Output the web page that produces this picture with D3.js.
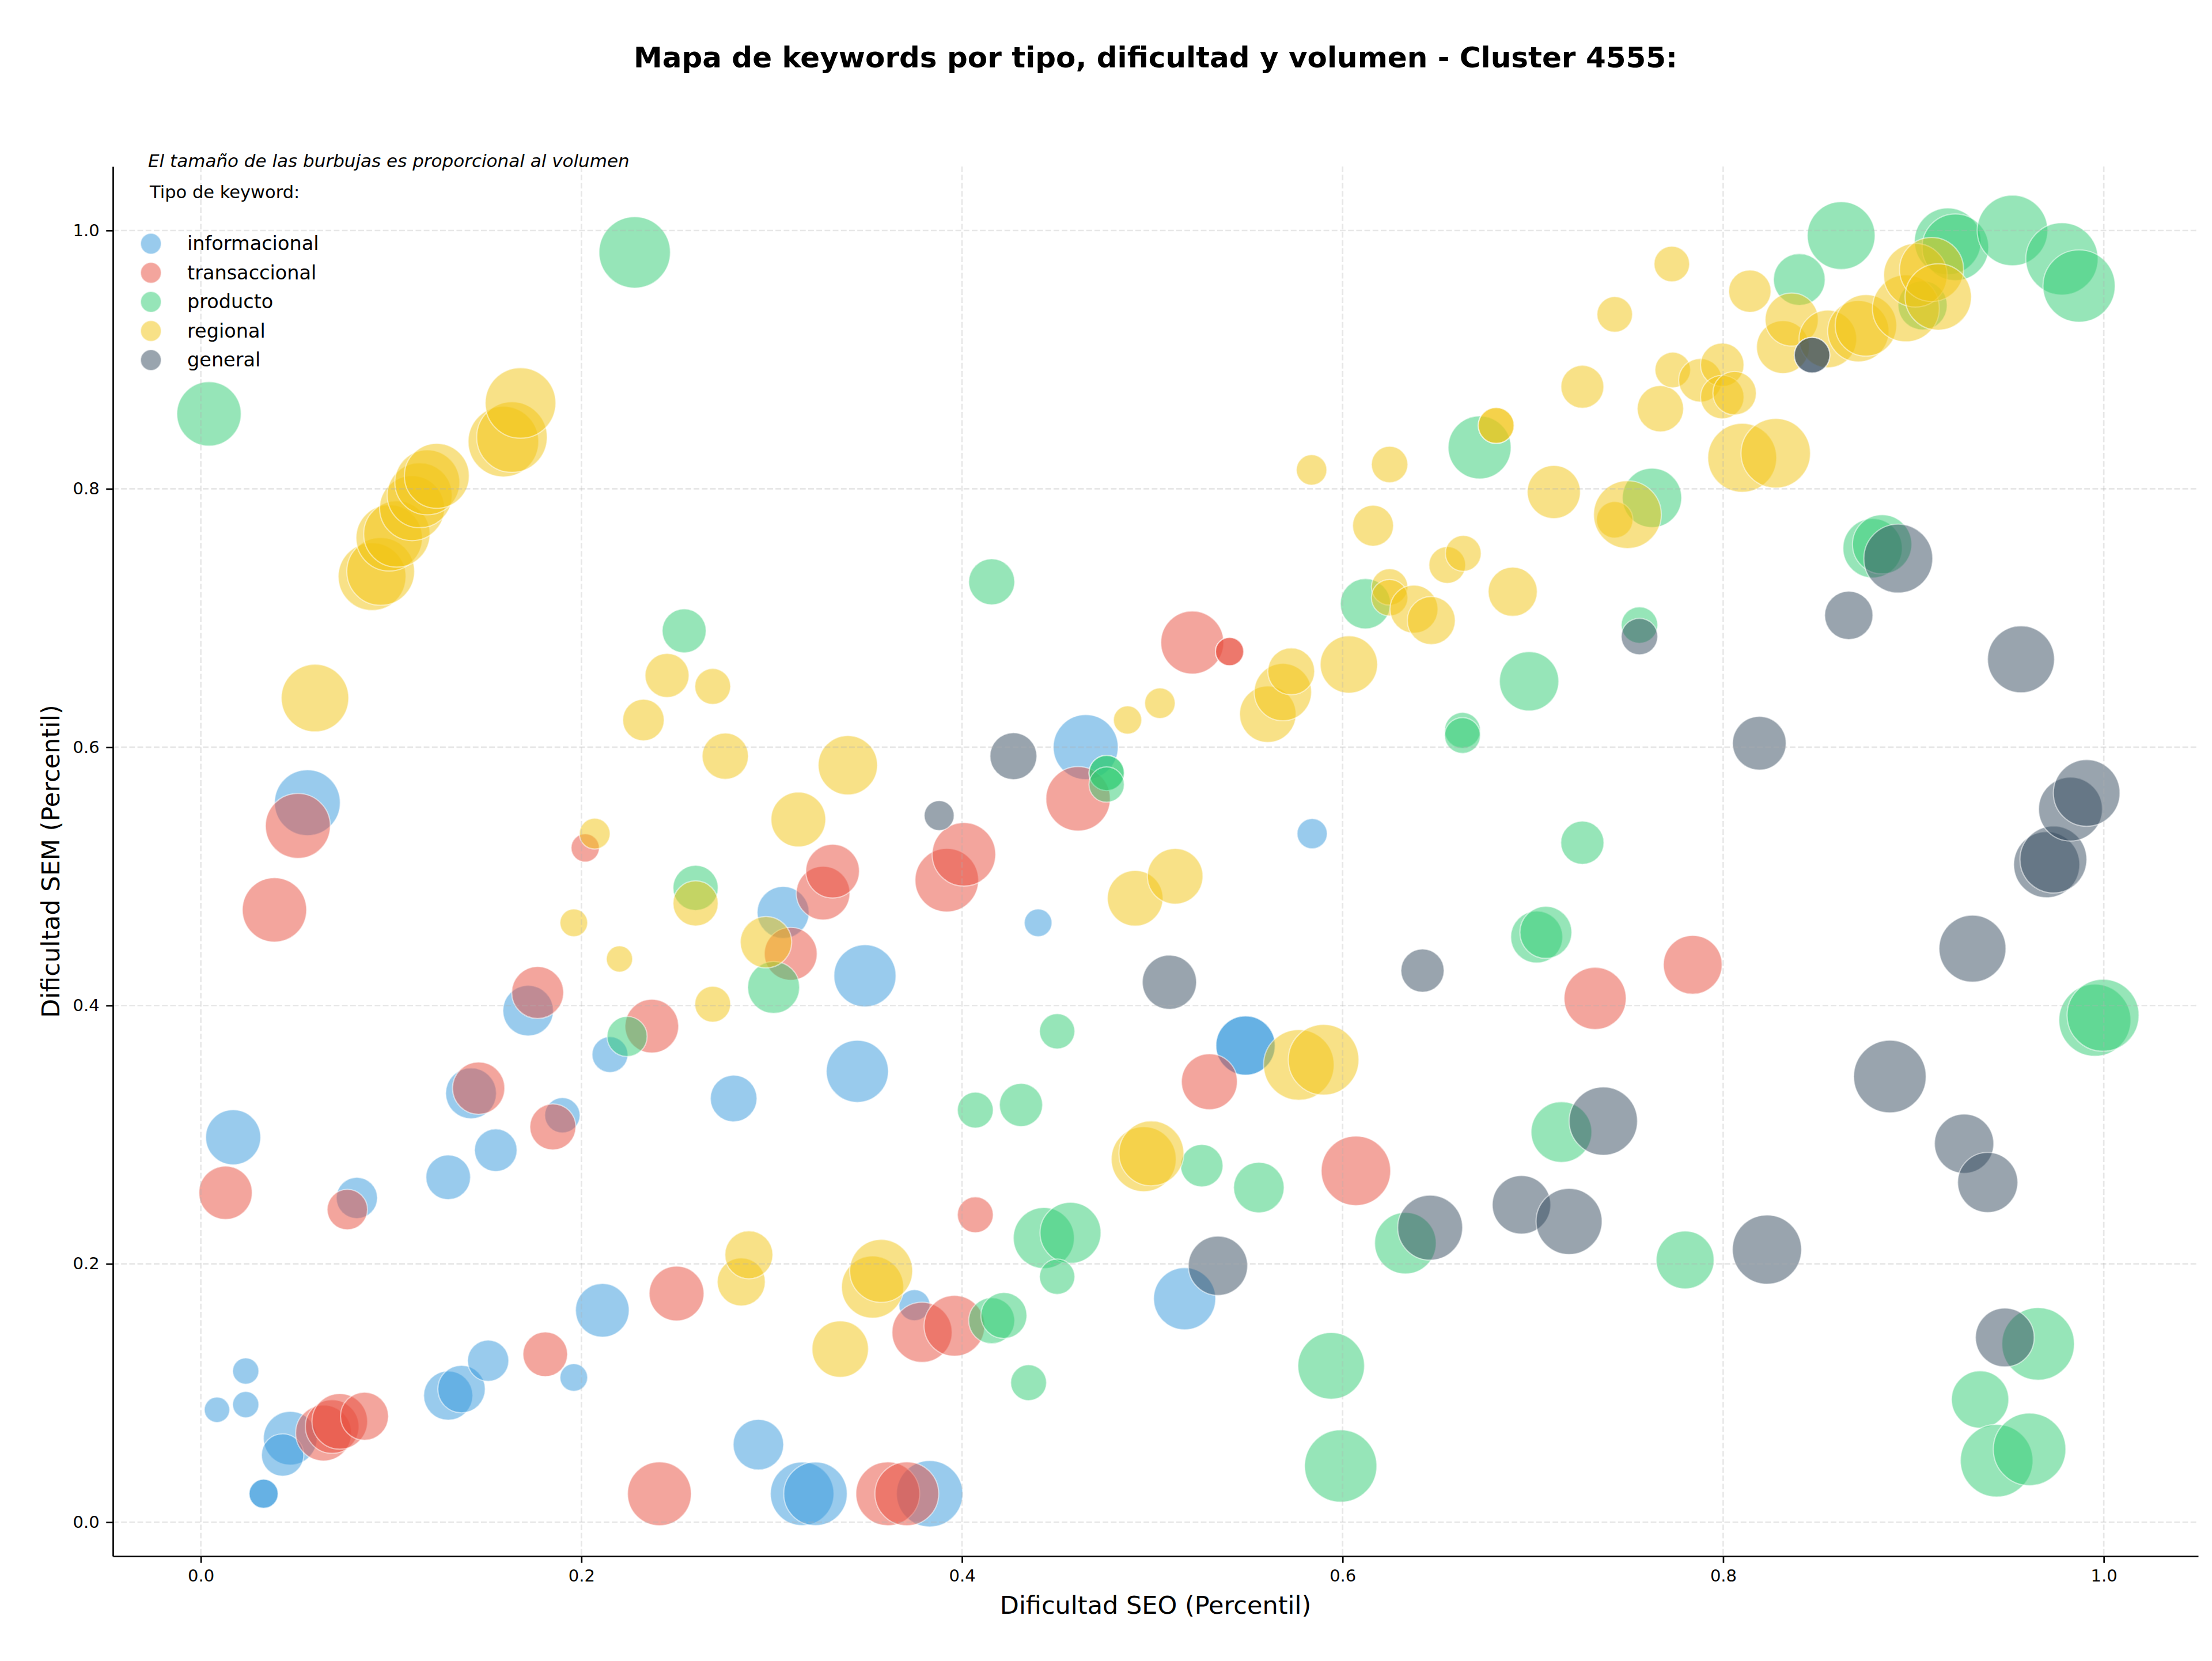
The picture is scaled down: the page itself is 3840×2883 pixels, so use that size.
<!DOCTYPE html>
<html><head><meta charset="utf-8">
<script src="https://cdn.jsdelivr.net/npm/d3@7"></script>
<style>body{margin:0;background:#fff}svg{display:block}</style>
</head><body>
<svg id="chart" width="3840" height="2883"></svg>
<script>
// ---- data: [dificultad SEO, dificultad SEM, volumen] ----
const tipos = ["informacional","transaccional","producto","regional","general"];
const colores = ["#3498db","#e74c3c","#2ecc71","#f1c40f","#34495e"];
const xTicks = [0.0,0.2,0.4,0.6,0.8,1.0];
const yTicks = [0.0,0.2,0.4,0.6,0.8,1.0];

const informacional = [
[0.0085,0.087,324],[0.0236,0.117,346],[0.0236,0.091,346],[0.033,0.022,424],[0.033,0.022,424],
[0.047,0.065,1444],[0.043,0.052,900],[0.017,0.298,1521],[0.056,0.557,2172],[0.082,0.251,853],
[0.130,0.267,999],[0.130,0.098,1211],[0.137,0.103,1129],[0.151,0.125,853],[0.155,0.288,912],
[0.142,0.332,1296],[0.172,0.396,1282],[0.190,0.315,625],[0.196,0.112,384],[0.211,0.164,1444],
[0.215,0.362,645],[0.280,0.328,1089],[0.293,0.060,1282],[0.306,0.472,1354],[0.316,0.022,2025],
[0.323,0.022,2025],[0.345,0.349,1936],[0.349,0.423,1936],[0.375,0.168,484],[0.383,0.022,2209],
[0.440,0.464,384],[0.465,0.600,2116],[0.517,0.173,1936],[0.549,0.369,1764],[0.549,0.369,1764],
[0.584,0.533,458]
];
const transaccional = [
[0.013,0.255,1429],[0.0387,0.474,2079],[0.051,0.539,2116],[0.077,0.242,818],[0.0645,0.069,1568],
[0.069,0.074,1444],[0.073,0.078,1552],[0.086,0.082,1156],[0.146,0.336,1369],[0.177,0.410,1354],
[0.185,0.306,1063],[0.181,0.130,999],[0.202,0.522,400],[0.237,0.384,1444],[0.241,0.022,2043],
[0.250,0.177,1505],[0.310,0.440,1399],[0.327,0.487,1444],[0.332,0.504,1444],[0.361,0.022,2043],
[0.371,0.022,2043],[0.379,0.147,1815],[0.396,0.152,1849],[0.392,0.497,2025],[0.401,0.517,2025],
[0.407,0.238,645],[0.461,0.560,2079],[0.521,0.681,1989],[0.5406,0.674,400],[0.5406,0.674,400],
[0.530,0.341,1568],[0.607,0.272,2421],[0.7327,0.4055,1936],[0.784,0.4315,1731]
];
const producto = [
[0.0043,0.858,2079],[0.228,0.983,2560],[0.254,0.690,973],[0.224,0.376,807],[0.260,0.491,1024],
[0.301,0.414,1354],[0.407,0.319,645],[0.4156,0.728,1063],[0.431,0.323,936],[0.435,0.108,645],
[0.4156,0.156,1063],[0.422,0.160,1063],[0.443,0.220,1866],[0.457,0.224,1866],[0.450,0.380,625],
[0.450,0.190,625],[0.476,0.580,625],[0.476,0.580,625],[0.476,0.571,625],[0.526,0.276,900],
[0.556,0.259,1282],[0.594,0.121,2228],[0.599,0.0435,2621],[0.612,0.711,1267],[0.633,0.216,1901],
[0.663,0.613,645],[0.663,0.609,645],[0.672,0.832,1989],[0.698,0.651,1764],[0.702,0.453,1354],
[0.7068,0.4566,1354],[0.715,0.302,1849],[0.726,0.526,936],[0.756,0.6945,666],[0.7626,0.793,1764],
[0.780,0.203,1681],[0.840,0.962,1340],[0.862,0.996,2304],[0.8785,0.754,1764],[0.8835,0.757,1764],
[0.9048,0.942,1211],[0.918,0.9916,2228],[0.922,0.987,2228],[0.935,0.095,1648],[0.9437,0.0476,2642],
[0.961,0.0564,2642],[0.952,1.0,2500],[0.9655,0.138,2642],[0.978,0.978,2621],[0.987,0.957,2621],
[0.9953,0.3886,2601],[0.9996,0.3924,2601]
];
const regional = [
[0.060,0.638,2285],[0.090,0.732,2304],[0.0945,0.736,2304],[0.099,0.762,2209],[0.103,0.765,2209],
[0.111,0.785,2116],[0.115,0.795,2116],[0.119,0.805,2116],[0.124,0.810,2116],[0.159,0.8365,2500],
[0.1635,0.840,2500],[0.168,0.8664,2500],[0.196,0.464,384],[0.207,0.533,475],[0.220,0.436,346],
[0.2326,0.621,864],[0.245,0.6555,973],[0.269,0.647,645],[0.260,0.479,1024],[0.269,0.401,645],
[0.2756,0.593,1076],[0.284,0.186,1156],[0.288,0.207,1156],[0.297,0.449,1325],[0.314,0.544,1505],
[0.336,0.134,1600],[0.340,0.586,1764],[0.353,0.182,1936],[0.3575,0.1945,1989],[0.487,0.621,400],
[0.491,0.483,1552],[0.512,0.500,1552],[0.4955,0.281,2116],[0.4995,0.2855,2116],[0.504,0.634,467],
[0.5607,0.6255,1600],[0.5686,0.6426,1648],[0.573,0.6587,1102],[0.577,0.354,2500],[0.590,0.358,2500],
[0.5837,0.8146,467],[0.6033,0.664,1648],[0.616,0.7714,841],[0.6247,0.8188,666],[0.6247,0.724,666],
[0.6247,0.7157,666],[0.6375,0.7068,1156],[0.6466,0.698,1156],[0.655,0.741,676],[0.6634,0.750,645],
[0.6807,0.849,645],[0.6807,0.849,645],[0.6894,0.7203,1211],[0.711,0.7975,1414],[0.726,0.879,924],
[0.743,0.935,635],[0.743,0.776,666],[0.7497,0.780,2304],[0.767,0.862,1076],[0.773,0.974,635],
[0.7735,0.892,635],[0.788,0.884,949],[0.7995,0.896,949],[0.7995,0.871,949],[0.806,0.874,949],
[0.810,0.824,2381],[0.8276,0.8275,2421],[0.814,0.953,900],[0.8314,0.9097,1399],[0.836,0.931,1414],
[0.855,0.916,1665],[0.871,0.922,1884],[0.875,0.9265,1901],[0.896,0.9397,2247],[0.901,0.9653,2025],
[0.9095,0.9698,2061],[0.913,0.9485,2209]
];
const general = [
[0.388,0.547,449],[0.427,0.593,1102],[0.509,0.418,1475],[0.5345,0.1985,1764],[0.642,0.427,936],
[0.646,0.228,2116],[0.694,0.2457,1714],[0.719,0.2328,2190],[0.737,0.3105,2343],[0.756,0.6856,666],
[0.819,0.603,1444],[0.823,0.211,2401],[0.8467,0.9034,635],[0.8467,0.9034,635],[0.866,0.702,1170],
[0.8876,0.345,2642],[0.892,0.746,2381],[0.9266,0.293,1764],[0.931,0.444,2247],[0.939,0.263,1815],
[0.948,0.143,1731],[0.9565,0.668,2247],[0.970,0.509,2190],[0.9735,0.513,2247],[0.9825,0.552,2043],
[0.991,0.5645,2228]
];
const series = [informacional, transaccional, producto, regional, general];

// ---- layout ----
const FONT = "DejaVu Sans";
const ax = {left:196, right:3816, top:289, bottom:2701};
const svg = d3.select("#chart");
svg.append("rect").attr("width",3840).attr("height",2883).attr("fill","#fff");

const x = d3.scaleLinear().domain([-0.0462,1.0496]).range([ax.left, ax.right]);
const y = d3.scaleLinear().domain([-0.0263,1.0495]).range([ax.bottom, ax.top]);
const r = d3.scaleSqrt().domain([0,2500]).range([0,61.2]);
const color = d3.scaleOrdinal().domain(tipos).range(colores);

// bubbles
const gB = svg.append("g");
tipos.forEach((t,i)=>{
  gB.append("g").selectAll("circle").data(series[i]).join("circle")
    .attr("cx",d=>x(d[0])).attr("cy",d=>y(d[1])).attr("r",d=>r(d[2]))
    .attr("fill",color(t)).attr("fill-opacity",0.5)
    .attr("stroke","#fff").attr("stroke-opacity",0.5).attr("stroke-width",2.2);
});

// grid (above bubbles, light)
const gG = svg.append("g").attr("stroke","#b0b0b0").attr("stroke-opacity",0.3)
  .attr("stroke-width",2.67).attr("stroke-dasharray","9.9,4.3");
gG.selectAll("line.v").data(xTicks).join("line").attr("class","v")
  .attr("x1",d=>x(d)).attr("x2",d=>x(d)).attr("y1",ax.top).attr("y2",ax.bottom);
gG.selectAll("line.h").data(yTicks).join("line").attr("class","h")
  .attr("y1",d=>y(d)).attr("y2",d=>y(d)).attr("x1",ax.left).attr("x2",ax.right);

// axes
const fmt = d3.format(".1f");
const xAxis = svg.append("g").attr("transform",`translate(0,${ax.bottom})`)
  .call(d3.axisBottom(x).tickValues(xTicks).tickFormat(fmt).tickSizeInner(11.7).tickSizeOuter(0).tickPadding(11.7));
const yAxis = svg.append("g").attr("transform",`translate(${ax.left},0)`)
  .call(d3.axisLeft(y).tickValues(yTicks).tickFormat(fmt).tickSizeInner(11.7).tickSizeOuter(0).tickPadding(11.7));
[xAxis,yAxis].forEach(g=>{
  g.selectAll("path.domain").attr("stroke","#000").attr("stroke-width",2.67);
  g.selectAll(".tick line").attr("stroke","#000").attr("stroke-width",2.67);
  g.selectAll(".tick text").attr("font-family",FONT).attr("font-size",29).attr("fill","#000");
});

// labels
svg.append("text").attr("x",(ax.left+ax.right)/2).attr("y",117)
  .attr("text-anchor","middle").attr("font-family",FONT).attr("font-weight","bold")
  .attr("font-size",50).text("Mapa de keywords por tipo, dificultad y volumen - Cluster 4555:");
svg.append("text").attr("x",(ax.left+ax.right)/2).attr("y",2801)
  .attr("text-anchor","middle").attr("font-family",FONT).attr("font-size",43)
  .text("Dificultad SEO (Percentil)");
svg.append("text").attr("transform",`translate(103,${(ax.top+ax.bottom)/2}) rotate(-90)`)
  .attr("text-anchor","middle").attr("font-family",FONT).attr("font-size",43)
  .text("Dificultad SEM (Percentil)");

// note + legend
svg.append("text").attr("x",257).attr("y",290).attr("font-family",FONT)
  .attr("font-style","italic").attr("font-size",31)
  .text("El tamaño de las burbujas es proporcional al volumen");
svg.append("text").attr("x",260).attr("y",344).attr("font-family",FONT)
  .attr("font-size",30.5).text("Tipo de keyword:");
const legY = d3.scalePoint().domain(tipos).range([423,625]);
const gL = svg.append("g");
gL.selectAll("circle").data(tipos).join("circle")
  .attr("cx",262).attr("cy",d=>legY(d)).attr("r",18)
  .attr("fill",d=>color(d)).attr("fill-opacity",0.5)
  .attr("stroke","#fff").attr("stroke-opacity",0.5).attr("stroke-width",2.2);
gL.selectAll("text").data(tipos).join("text")
  .attr("x",325).attr("y",d=>legY(d)+11).attr("font-family",FONT).attr("font-size",33.5)
  .text(d=>d);
</script>
</body></html>
